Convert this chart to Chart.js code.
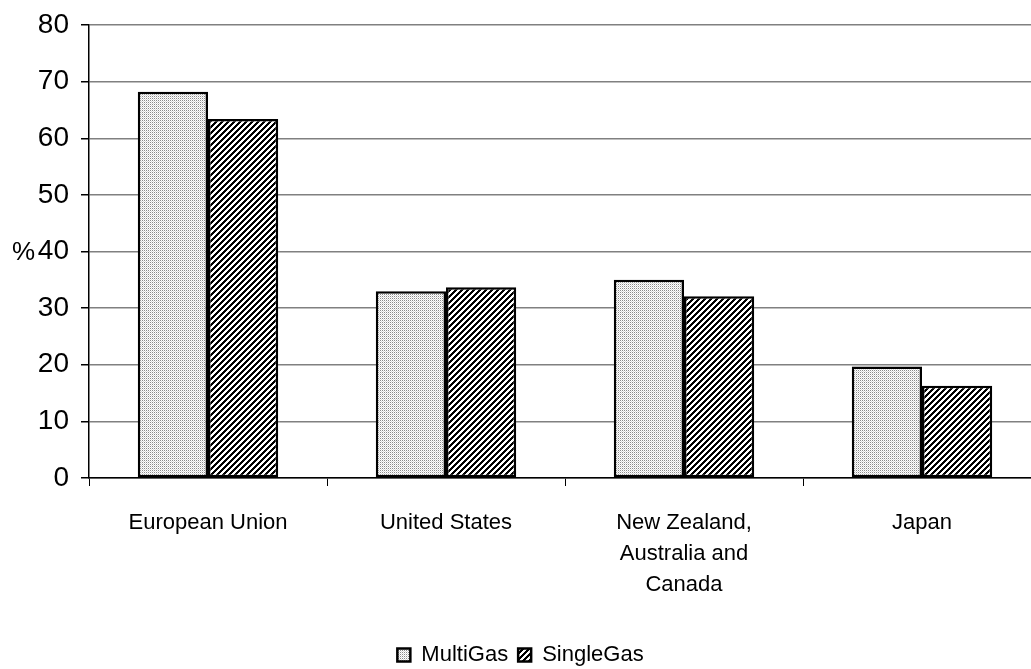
<!DOCTYPE html>
<html>
<head>
<meta charset="utf-8">
<script src="https://cdn.jsdelivr.net/npm/chart.js@4/dist/chart.umd.min.js"></script>
<style>
  html, body { margin: 0; padding: 0; background: #fff; overflow: hidden; }
  #wrap { position: absolute; left: 0; top: 0; width: 1045px; height: 669px; }
</style>
</head>
<body>
<div id="wrap"><canvas id="chart" width="1045" height="669"></canvas></div>
<script>
// datos
const categories = ['European Union', 'United States', ['New Zealand,', 'Australia and', 'Canada'], 'Japan'];
const multiGas = [68.2, 33.0, 35.0, 19.7];
const singleGas = [63.4, 33.7, 32.1, 16.3];
const yTicks = [0, 10, 20, 30, 40, 50, 60, 70, 80];

const FONT = '"Liberation Sans", Arial, sans-serif';

// patrones de relleno
function dotPattern() {
    const c = document.createElement('canvas');
    c.width = 2; c.height = 2;
    const x = c.getContext('2d');
    x.fillStyle = '#ffffff';
    x.fillRect(0, 0, 2, 2);
    x.fillStyle = '#8a8a8a';
    x.fillRect(0, 0, 1, 1);
    x.fillStyle = '#d8d8d8';
    x.fillRect(1, 1, 1, 1);
    return x.createPattern(c, 'repeat');
}

function hatchPattern() {
    const n = 6;
    const c = document.createElement('canvas');
    c.width = n; c.height = n;
    const x = c.getContext('2d');
    x.fillStyle = '#ffffff';
    x.fillRect(0, 0, n, n);
    x.fillStyle = '#000000';
    for (let i = 0; i < n; i++) {
        for (let j = 0; j < n; j++) {
            if ((i + j) % n < 3) x.fillRect(i, j, 1, 1);
        }
    }
    return x.createPattern(c, 'repeat');
}

// "%" junto al 40
const percentLabel = {
    id: 'percentLabel',
    afterDraw(chart) {
        const y = chart.scales.y;
        const ctx = chart.ctx;
        ctx.save();
        ctx.font = '26px ' + FONT;
        ctx.fillStyle = '#000';
        ctx.textAlign = 'left';
        ctx.textBaseline = 'middle';
        ctx.fillText('%', 12, y.getPixelForValue(40) + 1);
        ctx.restore();
    }
};

const ctx = document.getElementById('chart').getContext('2d');
new Chart(ctx, {
    type: 'bar',
    data: {
        labels: categories,
        datasets: [{
            label: 'MultiGas',
            data: multiGas,
            backgroundColor: dotPattern(),
            borderColor: '#000',
            borderWidth: 2.5,
            borderSkipped: false
        }, {
            label: 'SingleGas',
            data: singleGas,
            backgroundColor: hatchPattern(),
            borderColor: '#000',
            borderWidth: 2.5,
            borderSkipped: false
        }]
    },
    options: {
        responsive: false,
        animation: false,
        datasets: { bar: { categoryPercentage: 0.59, barPercentage: 1 } },
        layout: { padding: { top: 25, right: 4, left: 0, bottom: -7 } },
        plugins: {
            tooltip: { enabled: false },
            legend: {
                position: 'bottom',
                labels: {
                    color: '#000',
                    font: { family: FONT, size: 22 },
                    boxWidth: 13,
                    boxHeight: 13,
                    padding: 10
                }
            }
        },
        scales: {
            x: {
                afterFit(scale) { scale.height = 156; },
                grid: {
                    offset: true,
                    drawOnChartArea: false,
                    tickLength: 8,
                    color: '#000',
                    lineWidth: 1
                },
                border: { color: '#000', width: 1.5 },
                ticks: {
                    color: '#000',
                    font: { family: FONT, size: 22, lineHeight: 1.41 },
                    padding: 21,
                    maxRotation: 0,
                    autoSkip: false
                }
            },
            y: {
                min: 0,
                max: 80,
                afterFit(scale) {
                    scale.width = 89;
                    scale.paddingTop = 0;
                    scale.paddingBottom = 0;
                },
                afterBuildTicks(scale) { scale.ticks = yTicks.map(v => ({ value: v })); },
                grid: {
                    color: '#808080',
                    lineWidth: 1.5,
                    tickLength: 8,
                    tickColor: '#000'
                },
                border: { color: '#000', width: 1.5 },
                ticks: {
                    color: '#000',
                    font: { family: FONT, size: 28 },
                    padding: 12
                }
            }
        }
    },
    plugins: [percentLabel]
});
</script>
</body>
</html>
